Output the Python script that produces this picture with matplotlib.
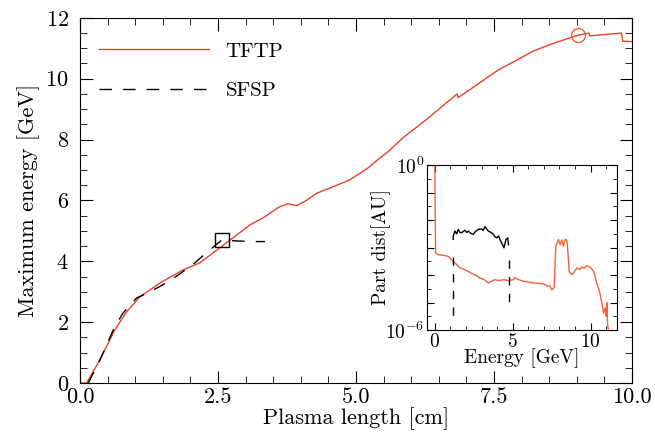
import matplotlib
matplotlib.use("Agg")
import matplotlib.pyplot as plt
from matplotlib.ticker import MultipleLocator, FixedLocator, NullFormatter, FuncFormatter
import numpy as np

plt.rcParams["font.family"] = "serif"
plt.rcParams["font.serif"] = ["cmr10", "DejaVu Serif"]
plt.rcParams["mathtext.fontset"] = "cm"
plt.rcParams["axes.formatter.use_mathtext"] = True

# main curve: TFTP (plasma length cm, max energy GeV)
tftp_x = [0.0, 0.12, 0.36, 0.63, 0.85, 1.09, 1.45, 1.87, 2.17, 2.48, 2.72, 3.08, 3.32,
          3.62, 3.77, 3.93, 4.1, 4.29, 4.53, 4.89, 5.22, 5.4, 5.58, 5.85, 6.2, 6.29,
          6.83, 6.85, 7.19, 7.4, 7.57, 7.92, 8.2, 8.51, 8.8, 9.02, 9.22, 9.23, 9.5,
          9.81, 9.83, 9.99]
tftp_y = [0.0, 0.0, 0.76, 1.74, 2.35, 2.84, 3.29, 3.72, 3.95, 4.37, 4.70, 5.2, 5.43,
          5.8, 5.89, 5.83, 6.0, 6.24, 6.41, 6.68, 7.07, 7.35, 7.6, 8.06, 8.55, 8.68,
          9.5, 9.38, 9.8, 10.07, 10.28, 10.62, 10.9, 11.12, 11.3, 11.43, 11.5, 11.41,
          11.45, 11.5, 11.23, 11.22]

# SFSP (dashed)
sfsp_x = [0.15, 0.36, 0.63, 0.78, 1.03, 1.27, 1.57, 1.78, 2.08, 2.3, 2.57, 2.84, 3.17, 3.35]
sfsp_y = [0.0, 0.75, 1.85, 2.3, 2.8, 3.0, 3.3, 3.55, 3.95, 4.3, 4.7, 4.67, 4.65, 4.65]

square_pt = (2.57, 4.70)
circle_pt = (9.02, 11.43)

# inset: particle distribution (energy GeV, log10 of AU)
dist_red_x = [0.0, 0.02, 0.05, 0.2, 0.5, 0.86, 1.0, 1.18, 1.4, 1.6, 1.9, 2.15, 2.4, 2.6,
              2.9, 3.2, 3.43, 3.65, 3.86, 4.1, 4.4, 4.7, 5.04, 5.15, 5.3, 5.69, 6.0,
              6.33, 6.7, 7.0, 7.19, 7.4, 7.51, 7.66, 7.77, 7.94, 8.05, 8.15, 8.26,
              8.37, 8.48, 8.55, 8.63, 8.8, 9.0, 9.12, 9.3, 9.44, 9.6, 9.76, 9.98,
              10.2, 10.4, 10.6, 10.73, 10.84, 10.94, 11.0, 11.05, 11.1, 11.15]
dist_red_y = [0.0, -1.5, -3.2, -3.26, -3.28, -3.32, -3.4, -3.5, -3.62, -3.74, -3.8,
              -3.87, -3.95, -4.0, -4.11, -4.18, -4.29, -4.22, -4.17, -4.2, -4.17,
              -4.2, -4.17, -4.09, -4.15, -4.23, -4.25, -4.29, -4.3, -4.33, -4.39,
              -4.4, -4.54, -4.45, -2.95, -2.71, -2.9, -2.72, -2.95, -2.7, -2.73,
              -3.2, -3.87, -3.99, -3.85, -3.74, -3.8, -3.71, -3.75, -3.66, -3.72,
              -3.87, -4.29, -4.66, -5.02, -5.39, -5.2, -5.5, -5.0, -5.88, -5.95]

dist_blk_x = [1.18, 1.18, 1.29, 1.4, 1.5, 1.6, 1.72, 1.93, 2.05, 2.15, 2.3, 2.47,
              2.6, 2.79, 3.0, 3.1, 3.22, 3.43, 3.6, 3.76, 3.85, 3.97, 4.1, 4.18,
              4.29, 4.44, 4.57, 4.68, 4.73]
dist_blk_y = [-2.7, -2.59, -2.4, -2.5, -2.34, -2.45, -2.46, -2.37, -2.45, -2.4, -2.48,
              -2.52, -2.42, -2.34, -2.32, -2.38, -2.24, -2.4, -2.45, -2.52, -2.6,
              -2.65, -2.58, -2.71, -2.83, -3.01, -2.7, -2.65, -2.9]

cut_x = [1.18, 4.77]
cut_top = [-3.35, -3.45]
cut_bot = [-5.6, -5.15]

red = "#e8402a"
orange = "#f26138"

fig = plt.figure(figsize=(6.55, 4.46), dpi=100)
ax = fig.add_axes([0.122, 0.141, 0.843, 0.819])

ax.plot(tftp_x, tftp_y, color=red, lw=1.0, label="TFTP")
ax.plot(sfsp_x, sfsp_y, color="black", lw=1.0, dashes=(9, 8), label="SFSP")
ax.plot(*square_pt, marker="s", ms=10, mfc="none", mec="black", mew=1.0)
ax.plot(*circle_pt, marker="o", ms=10, mfc="none", mec=orange, mew=1.0)

ax.set_xlim(0, 10)
ax.set_ylim(0, 12)
ax.xaxis.set_major_locator(MultipleLocator(2.5))
ax.xaxis.set_minor_locator(MultipleLocator(0.5))
ax.yaxis.set_major_locator(MultipleLocator(2))
ax.yaxis.set_minor_locator(MultipleLocator(0.5))
ax.xaxis.set_major_formatter(FuncFormatter(lambda v, p: f"{v:.1f}"))
ax.tick_params(which="both", direction="in", top=True, right=True, labelsize=16)
ax.tick_params(which="major", length=9)
ax.tick_params(which="minor", length=5)
ax.tick_params(axis="y", pad=8)
ax.set_xlabel("Plasma length [cm]", fontsize=16, labelpad=0)
ax.set_ylabel("Maximum energy [GeV]", fontsize=16, labelpad=4)
ax.legend(loc="upper left", frameon=False, fontsize=15, handlelength=5.3,
          labelspacing=1.0, bbox_to_anchor=(0.0, 0.985))

ins = fig.add_axes([0.652, 0.26, 0.29, 0.37])
ins.plot(dist_red_x, 10 ** np.array(dist_red_y), color=orange, lw=1.0)
ins.plot(dist_blk_x, 10 ** np.array(dist_blk_y), color="black", lw=1.0)
for cx, ct, cb in zip(cut_x, cut_top, cut_bot):
    ins.plot([cx, cx], [10 ** ct, 10 ** cb], color="black", lw=1.0, dashes=(6, 6))
ins.set_yscale("log")
ins.set_xlim(-0.5, 11.7)
ins.set_ylim(1e-6, 1e0)
ins.xaxis.set_major_locator(MultipleLocator(5))
ins.xaxis.set_minor_locator(MultipleLocator(1))
ins.yaxis.set_major_locator(FixedLocator([10.0 ** k for k in range(-6, 1)]))
ins.yaxis.set_minor_locator(FixedLocator([10.0 ** (k + 0.5) for k in range(-6, 0)]))
ins.yaxis.set_minor_formatter(NullFormatter())

def log_label(v, p):
    k = int(round(np.log10(v)))
    return f"$10^{{{k}}}$" if k in (0, -6) else ""

ins.yaxis.set_major_formatter(FuncFormatter(log_label))
ins.tick_params(which="both", direction="in", top=True, right=True, labelsize=14, pad=2)
ins.tick_params(which="major", length=5)
ins.tick_params(which="minor", length=3)
ins.set_xlabel("Energy [GeV]", fontsize=14, labelpad=-2)
ins.set_ylabel("Part dist[AU]", fontsize=14, labelpad=-4)

fig.savefig("out.png", dpi=100)
